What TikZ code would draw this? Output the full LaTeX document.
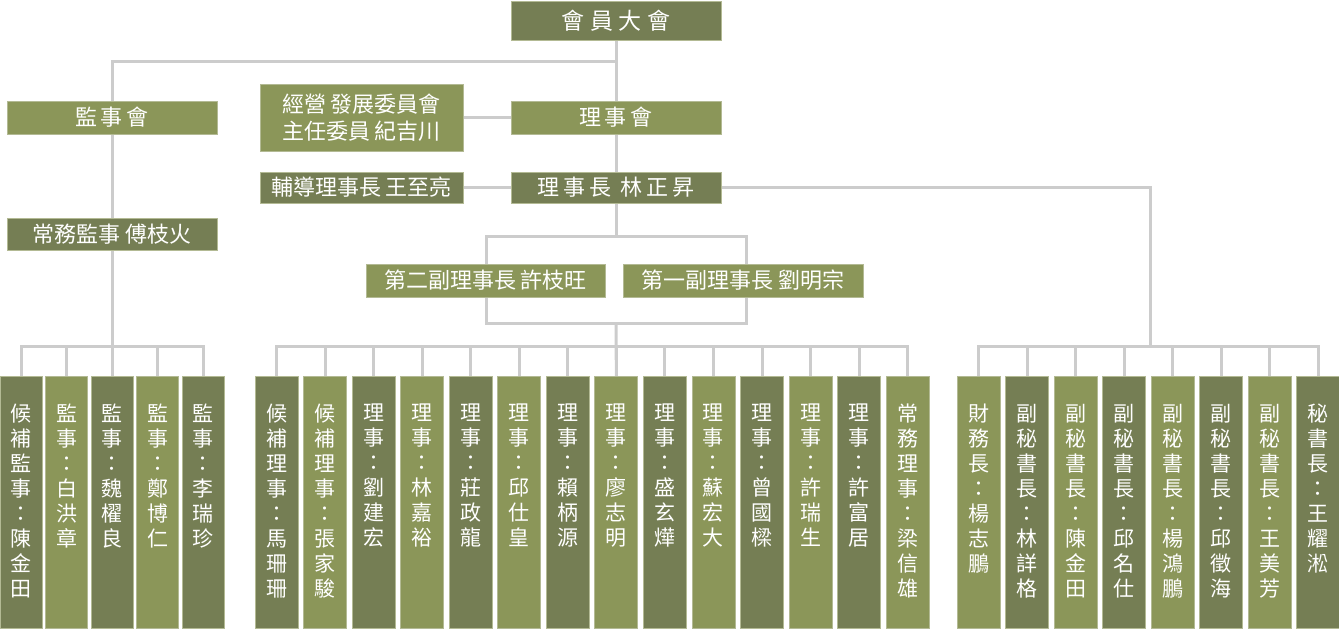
\documentclass[tikz,border=0pt]{standalone}
\usepackage{fontspec}
\setmainfont{Noto Sans CJK TC}
\newfontfamily\widefont[LetterSpace=18]{Noto Sans CJK TC}
\newfontfamily\widerfont[LetterSpace=25]{Noto Sans CJK TC}
\usetikzlibrary{backgrounds}

\definecolor{oliveD}{HTML}{757E54}
\definecolor{oliveL}{HTML}{8B9659}
\definecolor{box edge}{HTML}{B3BA94}
\definecolor{link gray}{HTML}{CCCCCC}
\tikzset{box/.style={draw=box edge, line width=0.8pt, text=white, inner sep=0pt,
                     align=center, font=\fontsize{22}{27}\selectfont},
    wide/.style={font=\widefont\fontsize{22}{27}\selectfont},
    column/.style={draw=box edge, line width=0.8pt, anchor=north, inner sep=0pt,
                   minimum height=252pt},
    coltext/.style={text=white, anchor=north, inner sep=0pt, align=center,
                    font=\fontsize{21}{25}\selectfont},
    link/.style={draw=link gray, line width=3pt}}

\begin{document}
\begin{tikzpicture}[x=1pt, y=-1pt]
  \useasboundingbox (0,0) rectangle (1339,629);
  % upper part
  \node[box, fill=oliveD, minimum width=210pt, minimum height=39pt,
        font=\widerfont\fontsize{23}{27}\selectfont] (hy) at (616,20.5) {會員大會};
  \node[box, wide, fill=oliveL, minimum width=210pt, minimum height=33pt] (js) at (112,117.5) {監事會};
  \node[box, fill=oliveL, minimum width=203pt, minimum height=67pt] (fz) at (361.5,117.5)
       {經營 發展委員會\\主任委員 紀吉川};
  \node[box, wide, fill=oliveL, minimum width=210pt, minimum height=33pt] (ls) at (616,117.5) {理事會};
  \node[box, fill=oliveD, minimum width=203pt, minimum height=31pt] (fd) at (361.5,187.5) {輔導理事長 王至亮};
  \node[box, wide, fill=oliveD, minimum width=210pt, minimum height=31pt] (lsz) at (616,187.5) {理事長 林正昇};
  \node[box, fill=oliveD, minimum width=210pt, minimum height=32pt] (cwjs) at (112,234) {常務監事 傅枝火};
  \node[box, fill=oliveL, minimum width=239pt, minimum height=33pt] (vp2) at (485.5,280.5) {第二副理事長 許枝旺};
  \node[box, fill=oliveL, minimum width=240pt, minimum height=33pt] (vp1) at (743,280.5) {第一副理事長 劉明宗};

  % supervisors
  \foreach \i/\f/\txt in {0/oliveD/{候\\補\\監\\事\\：\\陳\\金\\田},
                         1/oliveL/{監\\事\\：\\白\\洪\\章},
                         2/oliveD/{監\\事\\：\\魏\\櫂\\良},
                         3/oliveL/{監\\事\\：\\鄭\\博\\仁},
                         4/oliveD/{監\\事\\：\\李\\瑞\\珍}}{
    \node[column, fill=\f, minimum width=42pt] (s\i) at ({21+45.6*\i},376) {};
    \node[coltext] (st\i) at ([yshift=-28pt]s\i.north) {\txt};
  }
  % directors
  \foreach \i/\f/\txt in {0/oliveD/{候\\補\\理\\事\\：\\馬\\珊\\珊},
                         1/oliveL/{候\\補\\理\\事\\：\\張\\家\\駿},
                         2/oliveD/{理\\事\\：\\劉\\建\\宏},
                         3/oliveL/{理\\事\\：\\林\\嘉\\裕},
                         4/oliveD/{理\\事\\：\\莊\\政\\龍},
                         5/oliveL/{理\\事\\：\\邱\\仕\\皇},
                         6/oliveD/{理\\事\\：\\賴\\柄\\源},
                         7/oliveL/{理\\事\\：\\廖\\志\\明},
                         8/oliveD/{理\\事\\：\\盛\\玄\\燁},
                         9/oliveL/{理\\事\\：\\蘇\\宏\\大},
                         10/oliveD/{理\\事\\：\\曾\\國\\樑},
                         11/oliveL/{理\\事\\：\\許\\瑞\\生},
                         12/oliveD/{理\\事\\：\\許\\富\\居},
                         13/oliveL/{常\\務\\理\\事\\：\\梁\\信\\雄}}{
    \node[column, fill=\f, minimum width=43pt] (m\i) at ({276.5+48.55*\i},376) {};
    \node[coltext] (mt\i) at ([yshift=-28pt]m\i.north) {\txt};
  }
  % secretariat
  \foreach \i/\f/\txt in {0/oliveL/{財\\務\\長\\：\\楊\\志\\鵬},
                         1/oliveD/{副\\秘\\書\\長\\：\\林\\詳\\格},
                         2/oliveL/{副\\秘\\書\\長\\：\\陳\\金\\田},
                         3/oliveD/{副\\秘\\書\\長\\：\\邱\\名\\仕},
                         4/oliveL/{副\\秘\\書\\長\\：\\楊\\鴻\\鵬},
                         5/oliveD/{副\\秘\\書\\長\\：\\邱\\徵\\海},
                         6/oliveL/{副\\秘\\書\\長\\：\\王\\美\\芳},
                         7/oliveD/{秘\\書\\長\\：\\王\\耀\\淞}}{
    \node[column, fill=\f, minimum width=43pt] (r\i) at ({978.5+48.5*\i},376) {};
    \node[coltext] (rt\i) at ([yshift=-28pt]r\i.north) {\txt};
  }

  \coordinate (vtop) at (616,236);
  \coordinate (vbot) at (616,323);
  \coordinate (vnw) at (486,236);
  \coordinate (vse) at (746,323);
  \coordinate (sec) at (1150,346);

  \begin{scope}[on background layer]
    \draw[link] (hy.south) -- ++(0,21) -| (js.north);
    \draw[link] (hy.south) -- (ls.north);
    \draw[link] (js.south) -- (cwjs.north);
    \draw[link] (cwjs.south) -- (cwjs.south |- s2.north);
    \draw[link] (fz.east) -- (ls.west);
    \draw[link] (fd.east) -- (lsz.west);
    \draw[link] (ls.south) -- (lsz.north);
    \draw[link] (lsz.south) -- (vtop);
    \draw[link] (vnw) rectangle (vse);
    \draw[link] (vbot) -- (m7.north);
    \draw[link] (lsz.east) -| (sec);
    % buses
    \draw[link] (s0.north) -- ++(0,-30) -| (s4.north);
    \foreach \i in {1,3} \draw[link] (s\i.north) -- ++(0,-30);
    \draw[link] (m0.north) -- ++(0,-30) -| (m13.north);
    \foreach \i in {1,...,12} \draw[link] (m\i.north) -- ++(0,-30);
    \draw[link] (r0.north) -- ++(0,-30) -| (r7.north);
    \foreach \i in {1,...,6} \draw[link] (r\i.north) -- ++(0,-30);
  \end{scope}
\end{tikzpicture}
\end{document}
